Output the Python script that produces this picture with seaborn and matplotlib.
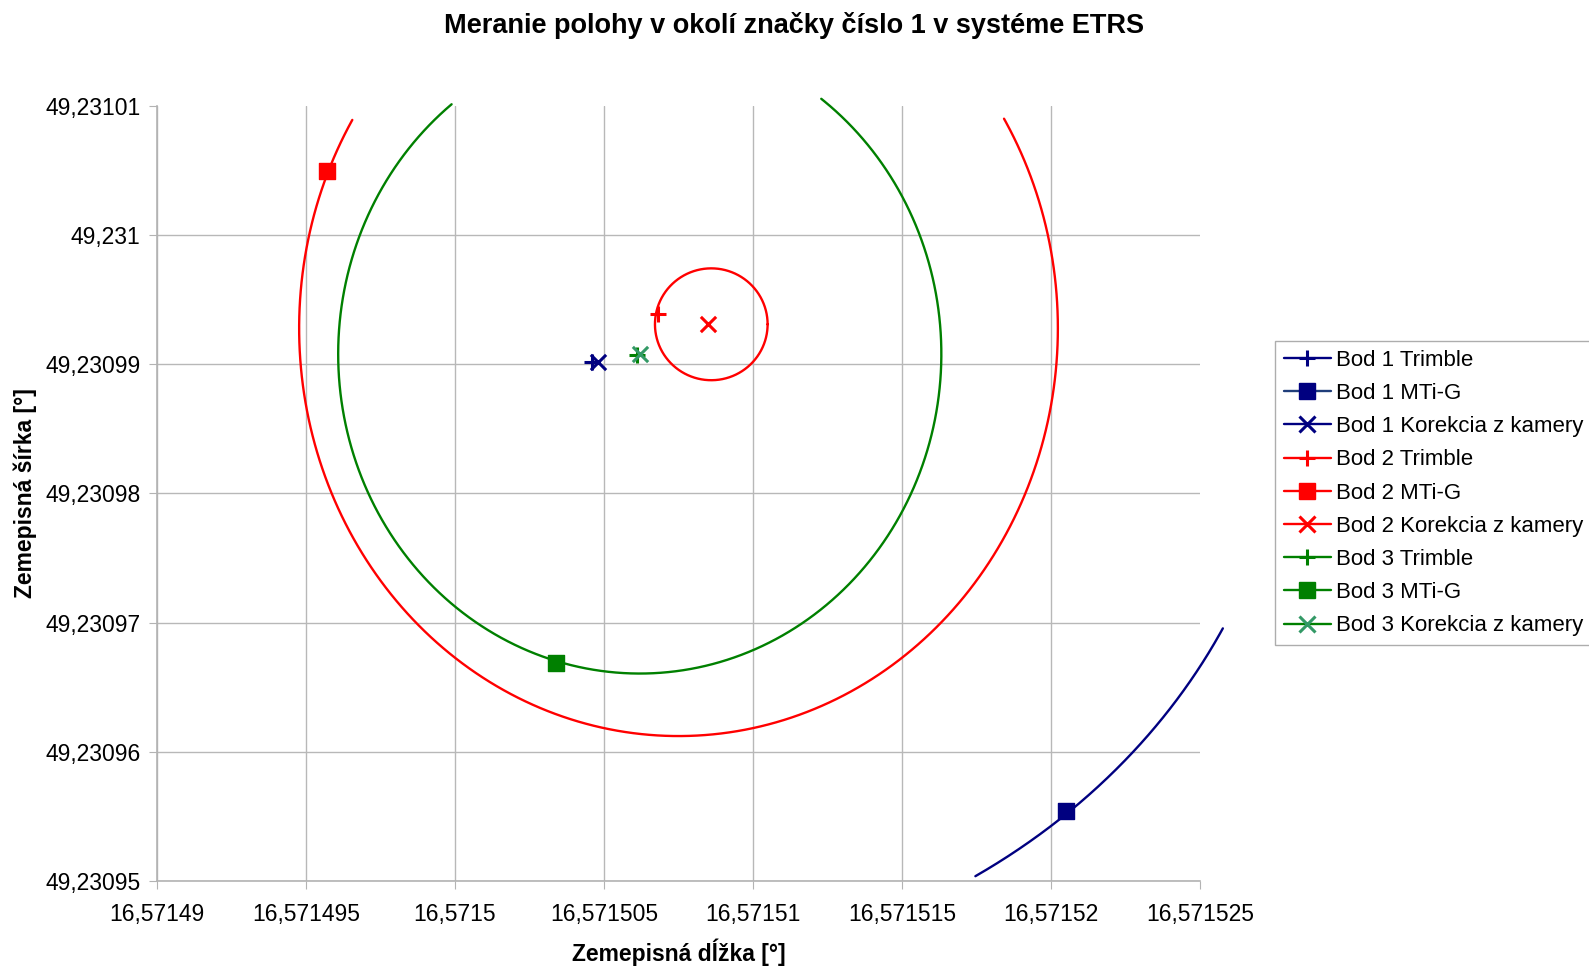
import numpy as np
import seaborn as sns
import matplotlib.pyplot as plt
from matplotlib.lines import Line2D
from matplotlib.ticker import FuncFormatter

# measured points (lon, lat)
bod1_trimble = (16.5715046, 49.2309902)
bod1_mtig = (16.5715205, 49.2309554)
bod1_korekcia = (16.5715048, 49.2309902)
bod2_trimble = (16.5715068, 49.2309939)
bod2_mtig = (16.5714957, 49.2310050)
bod2_korekcia = (16.5715085, 49.2309931)
bod3_trimble = (16.5715061, 49.2309907)
bod3_mtig = (16.5715034, 49.2309669)
bod3_korekcia = (16.5715062, 49.2309908)

# circles: centre lon, centre lat, radius lon, radius lat, start deg, end deg
circle_blue = (16.5715046, 49.2309902, 23.49e-6, 47.6e-6, -56.8, -25.7)
circle_red_big = (16.5715075, 49.2309928, 12.73e-6, 31.58e-6, 149.3, 390.9)
circle_red_small = (16.5715086, 49.2309931, 1.89e-6, 4.33e-6, 0, 360)
circle_green = (16.5715062, 49.2309908, 10.12e-6, 24.74e-6, 128.6, 413.0)

x_ticks = [16.57149, 16.571495, 16.5715, 16.571505, 16.57151, 16.571515, 16.57152, 16.571525]
y_ticks = [49.23095, 49.23096, 49.23097, 49.23098, 49.23099, 49.231, 49.23101]

navy = "#000080"
red = "#ff0000"
green = "#008000"
seagreen = "#339966"

sns.set_style("white")
plt.rcParams['font.family'] = ['Liberation Sans', 'DejaVu Sans']
plt.rcParams['text.color'] = 'black'
plt.rcParams['axes.labelcolor'] = 'black'

fig = plt.figure(figsize=(15.89, 9.68), dpi=100)
ax = fig.add_axes([0.0988, 0.0899, 0.6564, 0.8006])


def arc(c):
    cx, cy, rx, ry, a0, a1 = c
    t = np.radians(np.linspace(a0, a1, 400))
    return cx + rx * np.cos(t), cy + ry * np.sin(t)


for c, col in [(circle_blue, navy), (circle_red_big, red),
               (circle_red_small, red), (circle_green, green)]:
    xs, ys = arc(c)
    sns.lineplot(x=xs, y=ys, sort=False, estimator=None, color=col,
                 linewidth=1.7, ax=ax, clip_on=False)

series = [
    ("Bod 1 Trimble", bod1_trimble, navy, "+", 12, 2.2),
    ("Bod 1 MTi-G", bod1_mtig, navy, "s", 11, 1.0),
    ("Bod 1 Korekcia z kamery", bod1_korekcia, navy, "x", 11, 2.2),
    ("Bod 2 Trimble", bod2_trimble, red, "+", 12, 2.2),
    ("Bod 2 MTi-G", bod2_mtig, red, "s", 11, 1.0),
    ("Bod 2 Korekcia z kamery", bod2_korekcia, red, "x", 11, 2.2),
    ("Bod 3 Trimble", bod3_trimble, green, "+", 12, 2.2),
    ("Bod 3 MTi-G", bod3_mtig, green, "s", 11, 1.0),
    ("Bod 3 Korekcia z kamery", bod3_korekcia, seagreen, "x", 11, 2.2),
]

handles = []
for name, (lon, lat), col, mk, ms, mew in series:
    sns.scatterplot(x=[lon], y=[lat], marker=mk, s=ms ** 2, color=col,
                    edgecolor=col, linewidth=mew, ax=ax, zorder=5, clip_on=False)
    line_col = "#1f3d7a" if name == "Bod 1 MTi-G" else (green if col == seagreen else col)
    handles.append(Line2D([0], [0], color=line_col, lw=1.7, marker=mk,
                          markersize=ms * 1.0, markeredgewidth=mew,
                          markerfacecolor=col, markeredgecolor=col, label=name))

ax.set_xlim(x_ticks[0], x_ticks[-1])
ax.set_ylim(y_ticks[0], y_ticks[-1])
ax.set_xticks(x_ticks)
ax.set_yticks(y_ticks)


def comma_fmt(decimals):
    def f(v, pos):
        s = f"{v:.{decimals}f}".rstrip("0").rstrip(".")
        return s.replace(".", ",")
    return FuncFormatter(f)


ax.xaxis.set_major_formatter(comma_fmt(6))
ax.yaxis.set_major_formatter(comma_fmt(5))
ax.tick_params(axis="both", labelsize=16.5, length=6, color="#b3b3b3",
               labelcolor="black", direction="out", bottom=True, left=True, pad=6)
ax.tick_params(axis="x", pad=10)

ax.grid(True, color="#b8b8b8", linewidth=1)
for gl in [ax.xaxis.get_gridlines()[-1], ax.yaxis.get_gridlines()[-1]]:
    gl.set_visible(False)
for side in ["top", "right"]:
    ax.spines[side].set_visible(False)
for side in ["left", "bottom"]:
    ax.spines[side].set_color("#b3b3b3")
    ax.spines[side].set_linewidth(1.2)

ax.set_xlabel("Zemepisná dĺžka [°]", fontsize=16.5, fontweight="bold", labelpad=9)
ax.set_ylabel("Zemepisná šírka [°]", fontsize=16.5, fontweight="bold")
ax.yaxis.set_label_coords(-0.115, 0.5)
fig.text(0.5, 0.974, "Meranie polohy v okolí značky číslo 1 v systéme ETRS",
         ha="center", va="center", fontsize=19.5, fontweight="bold")

leg = fig.legend(handles=handles, loc="upper left", bbox_to_anchor=(0.8024, 0.648),
                 fontsize=16, frameon=True, fancybox=False, edgecolor="#999999",
                 handlelength=2.1, handletextpad=0.25, labelspacing=0.55,
                 borderpad=0.4, borderaxespad=0)
leg.get_frame().set_linewidth(1.0)

fig.savefig("out.png", dpi=100)
